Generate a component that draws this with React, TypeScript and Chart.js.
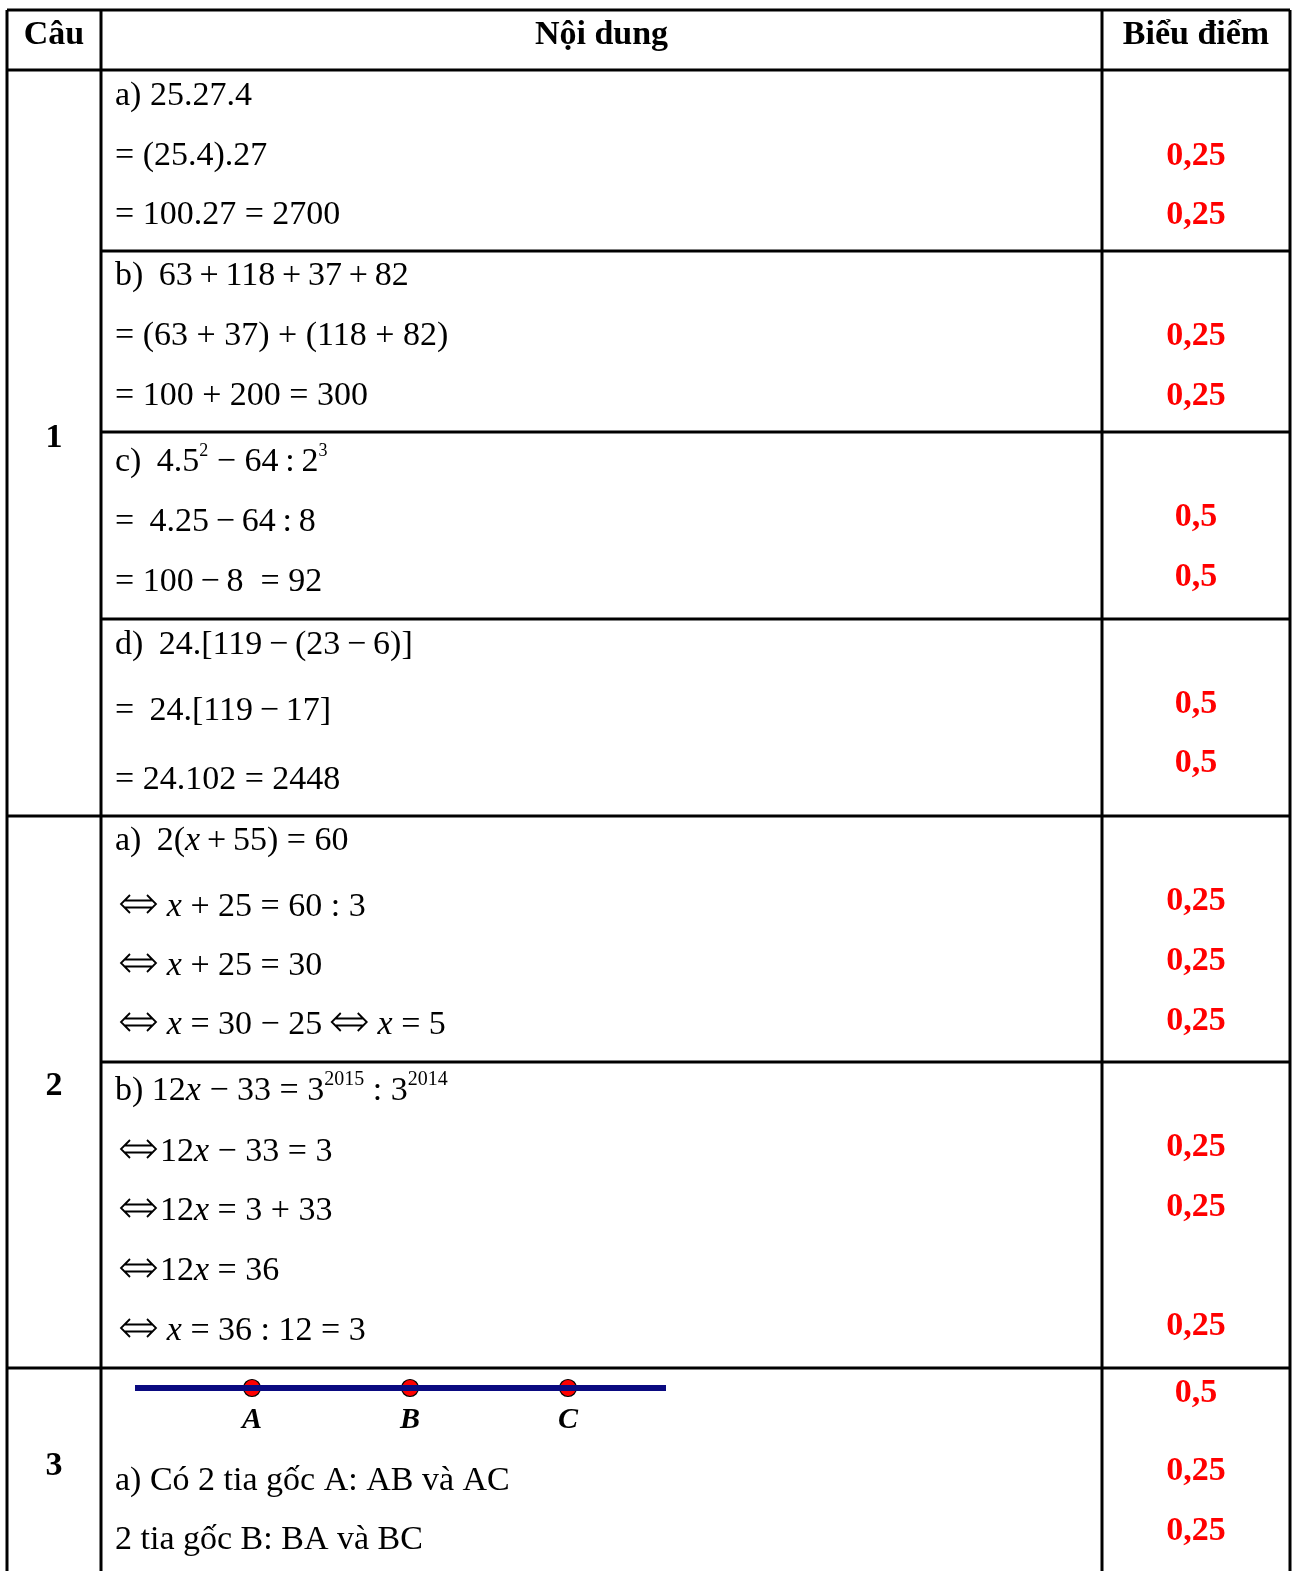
import { useEffect, useRef } from "react";
import { Chart, registerables } from "chart.js";

Chart.register(...registerables);

const W = 1292;
const H = 1571;

// ---- table geometry (page pixels on the linear scales) ----
const columnEdges = [7, 101, 1102, 1290];
const tableTop = 10;
const headerBottom = 70;
const fullRules = [816, 1368];
const contentRules = [251, 432, 619, 1062];

// ---- texts ----
const headers = ["Câu", "Nội dung", "Biểu điểm"];
const questionLabels = ["1", "2", "3"];
const questionBaselines = [447, 1095, 1475];

type Run = string | [string, string];
const T = "\u2009";
const ARROW: Run = ["a", "⇔"];
const contentLines: Run[][] = [
  ["a) 25.27.4"],
  ["= (25.4).27"],
  ["= 100.27 = 2700"],
  [`b) ${T}63${T}+${T}118${T}+${T}37${T}+${T}82`],
  ["= (63 + 37) + (118 + 82)"],
  ["= 100 + 200 = 300"],
  [`c) ${T}4.5`, ["s", "2"], ` − 64${T}:${T}2`, ["s", "3"]],
  [`= ${T}4.25${T}−${T}64${T}:${T}8`],
  [`= 100${T}−${T}8  = 92`],
  [`d) ${T}24.[119${T}−${T}(23${T}−${T}6)]`],
  [`= ${T}24.[119${T}−${T}17]`],
  ["= 24.102 = 2448"],
  [`a) ${T}2(`, ["i", "x"], `${T}+${T}55) = 60`],
  [ARROW, T, ["i", "x"], " + 25 = 60 : 3"],
  [ARROW, T, ["i", "x"], " + 25 = 30"],
  [ARROW, T, ["i", "x"], " = 30 − 25 ", ARROW, T, ["i", "x"], " = 5"],
  ["b) 12", ["i", "x"], " − 33 = 3", ["s", "2015"], " : 3", ["s", "2014"]],
  [ARROW, "12", ["i", "x"], " − 33 = 3"],
  [ARROW, "12", ["i", "x"], " = 3 + 33"],
  [ARROW, "12", ["i", "x"], " = 36"],
  [ARROW, T, ["i", "x"], " = 36 : 12 = 3"],
  ["a) Có 2 tia gốc A: AB và AC"],
  ["2 tia gốc B: BA và BC"],
];
const contentBaselines = [
  105, 165, 224, 285, 345, 405, 471, 531, 591, 654, 720, 789,
  850, 916, 975, 1034, 1100, 1161, 1220, 1280, 1340, 1490, 1549,
];
const contentIndent = [
  115, 115, 115, 115, 115, 115, 115, 115, 115, 115, 115, 115,
  115, 120, 120, 120, 115, 120, 120, 120, 120, 115, 115,
];

const scoreLabels = [
  "0,25", "0,25", "0,25", "0,25", "0,5", "0,5", "0,5", "0,5",
  "0,25", "0,25", "0,25", "0,25", "0,25", "0,25", "0,5", "0,25", "0,25",
];
const scoreBaselines = [
  165, 224, 345, 405, 526, 586, 713, 772,
  910, 970, 1030, 1156, 1216, 1335, 1402, 1480, 1540,
];

// ---- ray diagram ----
const rayPointNames = ["A", "B", "C"];
const rayPointX = [252, 410, 568];
const rayY = 1388;
const rayStartX = 135;
const rayEndX = 666;

const SERIF = '"Liberation Serif", "Times New Roman", "DejaVu Serif", serif';

function drawArrow(ctx: CanvasRenderingContext2D, x: number, cy: number): number {
  const w = 37;
  const hh = 9;
  const g = 3.5;
  ctx.save();
  ctx.strokeStyle = "#000";
  ctx.lineWidth = 1.8;
  ctx.lineJoin = "miter";
  ctx.beginPath();
  ctx.moveTo(x + 10, cy - hh);
  ctx.lineTo(x + 1, cy);
  ctx.lineTo(x + 10, cy + hh);
  ctx.moveTo(x + w - 10, cy - hh);
  ctx.lineTo(x + w - 1, cy);
  ctx.lineTo(x + w - 10, cy + hh);
  ctx.moveTo(x + 5, cy - g);
  ctx.lineTo(x + w - 5, cy - g);
  ctx.moveTo(x + 5, cy + g);
  ctx.lineTo(x + w - 5, cy + g);
  ctx.stroke();
  ctx.restore();
  return w + 3;
}

const textPlugin = {
  id: "tableText",
  afterDatasetsDraw(chart: any) {
    const ctx: CanvasRenderingContext2D = chart.ctx;
    const xs = chart.scales.x;
    const ys = chart.scales.y;
    ctx.save();
    ctx.textBaseline = "alphabetic";

    ctx.fillStyle = "#000";
    ctx.font = `bold 34px ${SERIF}`;
    ctx.textAlign = "center";
    headers.forEach((h, i) => {
      const cx = (columnEdges[i] + columnEdges[i + 1]) / 2;
      ctx.fillText(h, xs.getPixelForValue(cx), ys.getPixelForValue(44));
    });

    const qx = (columnEdges[0] + columnEdges[1]) / 2;
    questionLabels.forEach((q, i) => {
      ctx.fillText(q, xs.getPixelForValue(qx), ys.getPixelForValue(questionBaselines[i]));
    });

    ctx.fillStyle = "#ff0000";
    const sx = (columnEdges[2] + columnEdges[3]) / 2;
    scoreLabels.forEach((s, i) => {
      ctx.fillText(s, xs.getPixelForValue(sx), ys.getPixelForValue(scoreBaselines[i]));
    });

    ctx.fillStyle = "#000";
    ctx.font = `italic bold 30px ${SERIF}`;
    rayPointNames.forEach((n, i) => {
      ctx.fillText(n, xs.getPixelForValue(rayPointX[i]), ys.getPixelForValue(1428));
    });

    ctx.textAlign = "left";
    contentLines.forEach((runs, li) => {
      let x = xs.getPixelForValue(contentIndent[li]);
      const y = ys.getPixelForValue(contentBaselines[li]);
      runs.forEach((r) => {
        if (typeof r !== "string" && r[0] === "a") {
          x += drawArrow(ctx, x, y - 12);
          return;
        }
        let text: string;
        let dy = 0;
        if (typeof r === "string") {
          text = r;
          ctx.font = `34px ${SERIF}`;
        } else if (r[0] === "i") {
          text = r[1];
          ctx.font = `italic 34px ${SERIF}`;
        } else {
          text = r[1];
          ctx.font = `${r[1].length > 1 ? 20 : 18}px ${SERIF}`;
          dy = -15;
        }
        ctx.fillText(text, x, y + dy);
        x += ctx.measureText(text).width;
      });
    });
    ctx.restore();
  },
};

function ruleDataset(points: { x: number; y: number }[], color = "#000", width = 3) {
  return {
    data: points,
    showLine: true,
    borderColor: color,
    borderWidth: width,
    pointRadius: 0,
    fill: false,
    tension: 0,
  };
}

export default function App() {
  const ref = useRef<HTMLCanvasElement | null>(null);
  useEffect(() => {
    if (!ref.current) return;
    const datasets: any[] = [];
    columnEdges.forEach((x) =>
      datasets.push(ruleDataset([{ x, y: tableTop }, { x, y: H }]))
    );
    [tableTop, headerBottom, ...fullRules].forEach((y) =>
      datasets.push(ruleDataset([{ x: columnEdges[0], y }, { x: columnEdges[3], y }]))
    );
    contentRules.forEach((y) =>
      datasets.push(ruleDataset([{ x: columnEdges[1], y }, { x: columnEdges[3], y }]))
    );
    datasets.push(
      ruleDataset([{ x: rayStartX, y: rayY }, { x: rayEndX, y: rayY }], "#0a0a80", 6)
    );
    datasets.push({
      data: rayPointX.map((x) => ({ x, y: rayY })),
      showLine: false,
      pointRadius: 8.5,
      pointBackgroundColor: "#ff0000",
      pointBorderColor: "#000",
      pointBorderWidth: 1.2,
    });

    const chart = new Chart(ref.current, {
      type: "scatter",
      data: { datasets },
      options: {
        animation: false,
        responsive: false,
        maintainAspectRatio: false,
        devicePixelRatio: 1,
        layout: { padding: 0, autoPadding: false },
        events: [],
        plugins: { legend: { display: false }, tooltip: { enabled: false } },
        scales: {
          x: { type: "linear", min: 0, max: W, display: false },
          y: { type: "linear", min: 0, max: H, reverse: true, display: false },
        },
      },
      plugins: [textPlugin],
    } as any);
    return () => chart.destroy();
  }, []);

  return (
    <div style={{ position: "absolute", left: 0, top: 0, width: W, height: H, background: "#fff" }}>
      <canvas ref={ref} width={W} height={H} style={{ display: "block", width: W, height: H }} />
    </div>
  );
}
